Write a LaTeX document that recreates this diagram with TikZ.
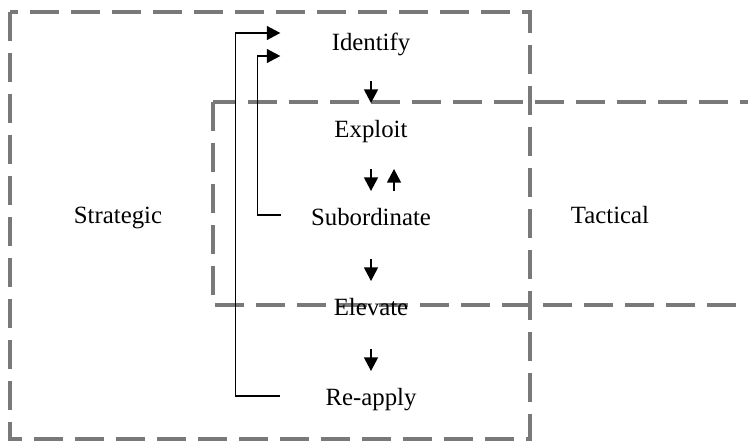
\documentclass[tikz,border=0pt]{standalone}
\usepackage{fontspec}
\setmainfont{Liberation Serif}
\usetikzlibrary{arrows.meta, calc}

\begin{document}
\begin{tikzpicture}
	[x=0.5pt,y=-0.5pt,
	zone/.style={draw=gray!95!black,line width=2pt,dash pattern=on 14.5pt off 6pt},
	step label/.style={anchor=base,inner sep=0pt,font=\fontsize{12.4}{15}\selectfont},
	tip/.style={line width=0.7pt,-{Triangle[length=6.8pt,width=7pt]}}]

	\useasboundingbox (0,0) rectangle (748,440);
	\clip (0,0) rectangle (748,440);

	%zones
	\draw[zone] (10,12) rectangle (530,439);
	\draw[zone] (213,102) rectangle (780,305);

	\node[step label] (identify) at (371,50) {Identify};
	\node[step label] (exploit) at (371,137) {Exploit};
	\node[step label] (subordinate) at (371,225) {Subordinate};
	\node[step label] (elevate) at (371,315) {Elevate};
	\node[step label] (reapply) at (371,405) {Re-apply};
	\node[step label] (strategic) at (118,223) {Strategic};
	\node[step label] (tactical) at (610,223) {Tactical};

	\foreach \b in {exploit,subordinate,elevate,reapply}
		\draw[tip] ($(\b.base)+(0,-56)$) -- ($(\b.base)+(0,-34)$);
	\draw[tip] ($(subordinate.base)+(23,-34)$) -- ($(subordinate.base)+(23,-56)$);

	%feedback
	\draw[tip] ($(reapply.base west)+(-45,-9)$) -| ($(identify.base west)+(-96,-17)$) -- ($(identify.base west)+(-51,-17)$);
	\draw[tip] ($(subordinate.base west)+(-30,-10)$) -| ($(identify.base west)+(-74,6)$) -- ($(identify.base west)+(-51,6)$);

	\end{tikzpicture}
\end{document}
